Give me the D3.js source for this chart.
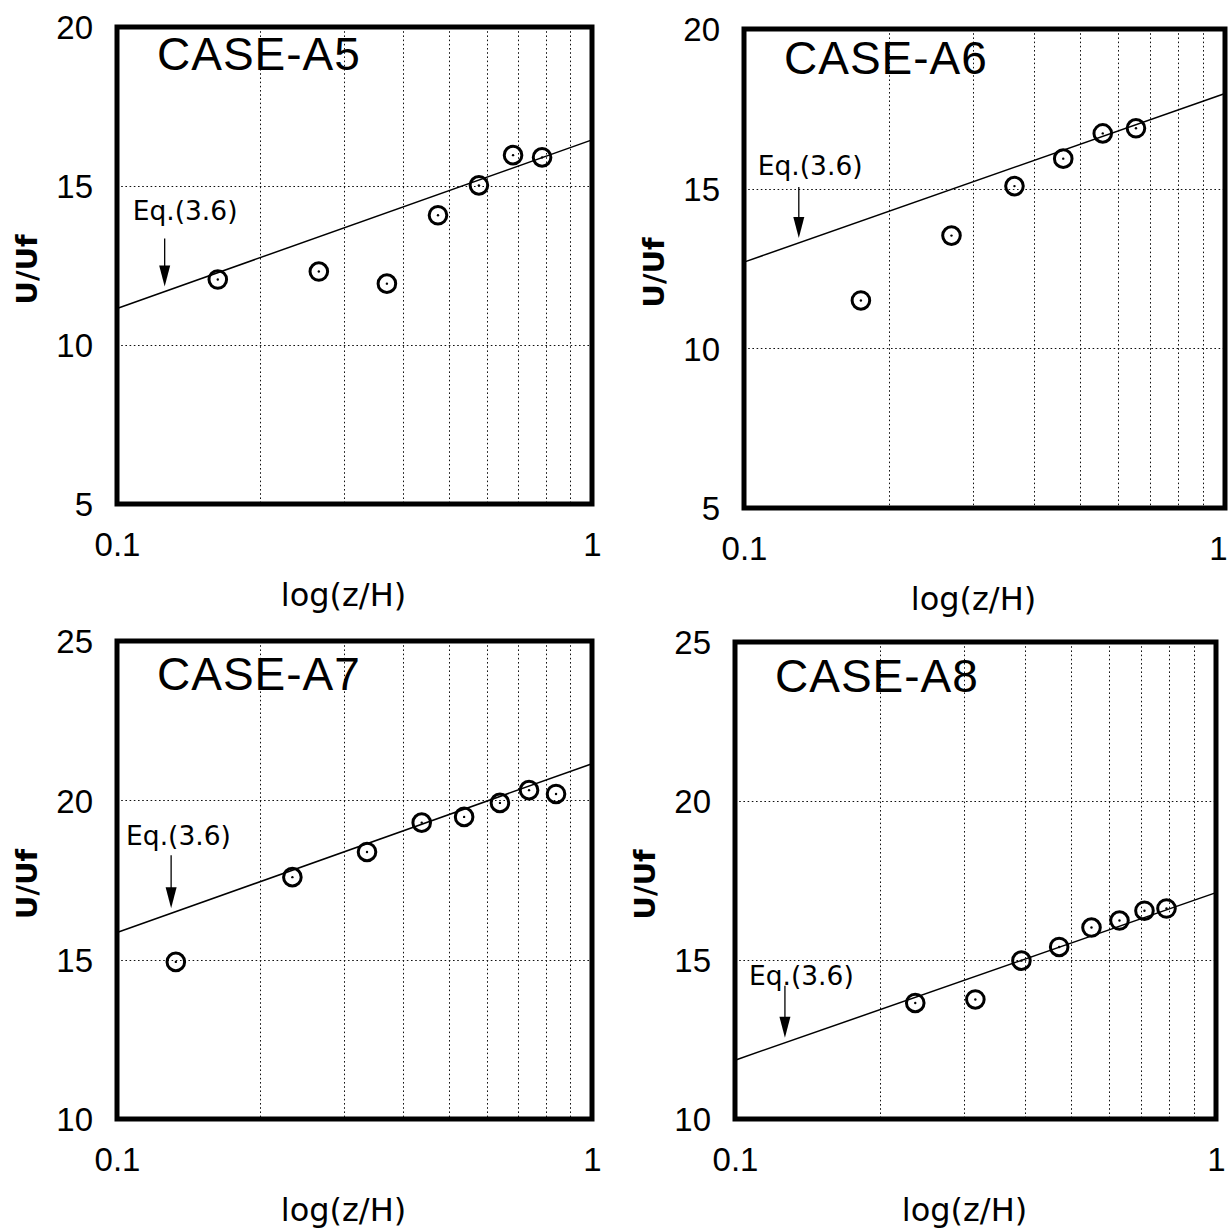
<!DOCTYPE html>
<html>
<head>
<meta charset="utf-8">
<script src="https://cdn.jsdelivr.net/npm/d3@7/dist/d3.min.js"></script>
<style>
  html, body { margin: 0; padding: 0; background: #fff; }
  svg { display: block; }
  .tick-label { font-family: "Liberation Sans", Arial, sans-serif; font-size: 33px; fill: #000; }
  .axis-label { font-family: "DejaVu Sans", sans-serif; font-size: 32px; fill: #000; }
  .ylab { font-family: "DejaVu Sans", sans-serif; font-size: 29px; font-weight: bold; fill: #000; }
  .case-title { font-family: "Liberation Sans", Arial, sans-serif; font-size: 46px; letter-spacing: 1px; fill: #000; }
  .eq-label { font-family: "DejaVu Sans", sans-serif; font-size: 26.5px; fill: #000; }
</style>
</head>
<body>
<svg id="chart" width="1228" height="1229"></svg>
<script>
// ---- data ----
const caseNames = ["CASE-A5", "CASE-A6", "CASE-A7", "CASE-A8"];

// measured points: z/H and U/Uf
const a5Z = [0.163, 0.266, 0.370, 0.474, 0.578, 0.682, 0.785];
const a5U = [12.06, 12.31, 11.93, 14.08, 15.02, 15.97, 15.90];
const a6Z = [0.175, 0.270, 0.365, 0.461, 0.557, 0.653];
const a6U = [11.50, 13.53, 15.08, 15.94, 16.73, 16.89];
const a7Z = [0.133, 0.234, 0.336, 0.438, 0.538, 0.640, 0.737, 0.840];
const a7U = [14.93, 17.59, 18.38, 19.30, 19.48, 19.92, 20.32, 20.20];
const a8Z = [0.237, 0.316, 0.394, 0.472, 0.551, 0.630, 0.710, 0.789];
const a8U = [13.65, 13.76, 14.98, 15.41, 16.02, 16.24, 16.55, 16.62];

// Eq.(3.6) log-law line, evaluated at z/H = 0.1 and 1
const eqZ = [0.1, 1];
const a5Eq = [11.15, 16.45];
const a6Eq = [12.70, 17.98];
const a7Eq = [15.85, 21.15];
const a8Eq = [11.85, 17.12];

// axes
const yDomainA56 = [5, 20];
const yDomainA78 = [10, 25];
const yTicksA56 = [5, 10, 15, 20];
const yTicksA78 = [10, 15, 20, 25];
const xTickValues = [0.1, 1];
const xTickLabels = ["0.1", "1"];
const xGridValues = [0.2, 0.3, 0.4, 0.5, 0.6, 0.7, 0.8, 0.9];
const eqText = "Eq.(3.6)";
const xAxisTitle = "log(z/H)";
const yAxisTitle = "U/Uf";

// ---- layout ----
const panels = [
  { name: caseNames[0], z: a5Z, u: a5U, eq: a5Eq, yDomain: yDomainA56, yTicks: yTicksA56,
    box: { l: 117, r: 592, t: 27, b: 504 }, titleDy: 43, arrowZ: 0.126, arrowLen: 48, textDx: 32, textGap: 19 },
  { name: caseNames[1], z: a6Z, u: a6U, eq: a6Eq, yDomain: yDomainA56, yTicks: yTicksA56,
    box: { l: 744, r: 1225, t: 29, b: 508 }, titleDy: 45, arrowZ: 0.130, arrowLen: 51, textDx: 41, textGap: 12 },
  { name: caseNames[2], z: a7Z, u: a7U, eq: a7Eq, yDomain: yDomainA78, yTicks: yTicksA78,
    box: { l: 117, r: 592, t: 641, b: 1119 }, titleDy: 49, arrowZ: 0.130, arrowLen: 53, textDx: 45, textGap: 10 },
  { name: caseNames[3], z: a8Z, u: a8U, eq: a8Eq, yDomain: yDomainA78, yTicks: yTicksA78,
    box: { l: 735, r: 1216, t: 642, b: 1119 }, titleDy: 50, arrowZ: 0.127, arrowLen: 52, textDx: 36, textGap: 1 }
];

const svg = d3.select("#chart");
const W = +svg.attr("width");

panels.forEach(p => {
  const { l, r, t, b } = p.box;
  const x = d3.scaleLog().domain([0.1, 1]).range([l, r]);
  const y = d3.scaleLinear().domain(p.yDomain).range([b, t]);
  const g = svg.append("g");

  // dotted grid
  const grid = g.append("g").attr("stroke", "#111").attr("stroke-width", 1)
    .attr("stroke-dasharray", "1.6,2.6");
  grid.selectAll("line.vx").data(xGridValues).join("line")
    .attr("x1", d => Math.round(x(d)) + 0.5).attr("x2", d => Math.round(x(d)) + 0.5)
    .attr("y1", t).attr("y2", b);
  grid.selectAll("line.hy").data(p.yTicks.slice(1, -1)).join("line")
    .attr("x1", l).attr("x2", r)
    .attr("y1", d => Math.round(y(d)) + 0.5).attr("y2", d => Math.round(y(d)) + 0.5);

  // y tick labels
  const yAxis = d3.axisLeft(y).tickValues(p.yTicks).tickSize(0).tickPadding(24).tickFormat(d3.format("d"));
  const ya = g.append("g").attr("transform", `translate(${l},0)`).call(yAxis);
  ya.select(".domain").remove();
  ya.selectAll("text").attr("class", "tick-label").attr("font-size", null).attr("font-family", null)
    .attr("dy", "0.36em");

  // x tick labels
  const xAxis = d3.axisBottom(x).tickValues(xTickValues).tickSize(0).tickPadding(29)
    .tickFormat((d, i) => xTickLabels[i]);
  const xa = g.append("g").attr("transform", `translate(0,${b})`).call(xAxis);
  xa.select(".domain").remove();
  xa.selectAll("text").attr("class", "tick-label").attr("font-size", null).attr("font-family", null)
    .attr("dy", "0.71em")
    .attr("dx", d => (x(d) + 10 > W ? -(x(d) + 10 - W) : 0));

  // Eq.(3.6) line
  const line = d3.line().x(d => x(d[0])).y(d => y(d[1]));
  g.append("path")
    .datum(eqZ.map((z, i) => [z, p.eq[i]]))
    .attr("d", line)
    .attr("fill", "none").attr("stroke", "#000").attr("stroke-width", 1.5);

  // data circles
  const pts = p.z.map((z, i) => [z, p.u[i]]);
  g.selectAll("circle.pt").data(pts).join("circle")
    .attr("cx", d => x(d[0])).attr("cy", d => y(d[1])).attr("r", 8.8)
    .attr("fill", "none").attr("stroke", "#000").attr("stroke-width", 3);
  g.selectAll("circle.dot").data(pts).join("circle")
    .attr("cx", d => x(d[0])).attr("cy", d => y(d[1])).attr("r", 1.2)
    .attr("fill", "#000");

  // annotation arrow pointing down to the line
  const eqAt = zz => p.eq[0] + (p.eq[1] - p.eq[0]) * Math.log10(zz / 0.1);
  const ax = x(p.arrowZ);
  const tipY = y(eqAt(p.arrowZ)) - 5;
  const topY = tipY - p.arrowLen;
  g.append("line")
    .attr("x1", ax).attr("x2", ax).attr("y1", topY).attr("y2", tipY - 18)
    .attr("stroke", "#000").attr("stroke-width", 1.3);
  g.append("path")
    .attr("d", `M${ax - 5.5},${tipY - 21} L${ax + 5.5},${tipY - 21} L${ax},${tipY} Z`)
    .attr("fill", "#000");
  g.append("text").attr("class", "eq-label")
    .attr("x", ax - p.textDx).attr("y", topY - p.textGap)
    .text(eqText);

  // frame
  g.append("rect")
    .attr("x", l).attr("y", t).attr("width", r - l).attr("height", b - t)
    .attr("fill", "none").attr("stroke", "#000").attr("stroke-width", 5);

  // panel title
  g.append("text").attr("class", "case-title")
    .attr("x", l + 40).attr("y", t + p.titleDy)
    .text(p.name);

  // axis titles
  g.append("text").attr("class", "axis-label")
    .attr("x", (l + r) / 2 - 11).attr("y", b + 102)
    .attr("text-anchor", "middle")
    .text(xAxisTitle);
  g.append("text").attr("class", "ylab")
    .attr("transform", `translate(${l - 80},${(t + b) / 2 + 4}) rotate(-90)`)
    .attr("text-anchor", "middle")
    .text(yAxisTitle);
});
</script>
</body>
</html>
